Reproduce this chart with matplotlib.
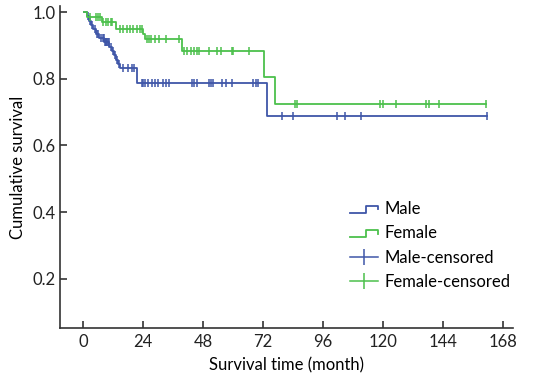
import numpy as np
import matplotlib
matplotlib.use("Agg")
import matplotlib.pyplot as plt
from matplotlib.lines import Line2D
from matplotlib.legend_handler import HandlerBase

plt.rcParams['font.family'] = ['Lato', 'DejaVu Sans']

# Kaplan-Meier steps (time in months, survival after the drop)
male_t = [0.5, 1.5, 2.4, 3.2, 4.0, 5.0, 6.5, 8.5, 10.5, 11.5, 12.3, 13.0, 13.8, 14.8, 21.5, 73.7]
male_s = [1.0, 0.987, 0.974, 0.961, 0.948, 0.935, 0.922, 0.909, 0.896, 0.883, 0.870, 0.857, 0.844, 0.831, 0.786, 0.688]
male_end = 161.7
male_cens = [2.0, 2.8, 3.6, 4.6, 5.6, 6.0, 7.2, 7.8, 8.2, 8.6, 9.0, 9.3, 9.6, 10.0, 10.3,
             11.0, 12.0, 12.6, 13.4, 14.3, 16.1, 18.1, 19.5, 20.3, 23.5, 24.1, 24.8, 26.1,
             27.5, 28.8, 30.1, 32.1, 33.2, 34.5, 43.5, 44.4, 45.5, 50.4, 51.1, 52.1, 55.5,
             57.1, 59.7, 68.1, 69.2, 70.1, 79.7, 83.9, 101.6, 104.9, 111.1, 161.7]

female_t = [0.5, 1.5, 7.5, 13.1, 24.0, 24.8, 39.5, 72.5, 76.8]
female_s = [1.0, 0.985, 0.971, 0.950, 0.935, 0.920, 0.883, 0.804, 0.723]
female_end = 161.2
female_cens = [2.8, 5.1, 5.9, 6.8, 8.1, 9.1, 10.1, 11.2, 11.7, 14.8, 16.1, 17.5, 18.8, 20.1,
               21.5, 22.8, 23.5, 25.7, 26.4, 27.1, 28.8, 30.5, 33.2, 38.5, 40.4, 41.7, 43.1,
               44.4, 45.5, 46.4, 50.4, 53.7, 55.1, 59.5, 60.1, 66.5, 84.8, 85.7, 118.8,
               119.9, 125.1, 137.2, 138.3, 142.4, 161.2]

blue = '#3F56A8'
green = '#4CC04C'
fs = 12


def surv_at(times, surv, t):
    idx = np.searchsorted(times, t, side='right') - 1
    return np.array(surv)[idx]


class HandlerStep(HandlerBase):
    def create_artists(self, legend, orig_handle, xdescent, ydescent, width, height, fontsize, trans):
        x0, y0 = -xdescent, -ydescent
        xs = [x0, x0 + width * 0.58, x0 + width * 0.58, x0 + width, x0 + width]
        ys = [y0 + height * 0.1, y0 + height * 0.1, y0 + height * 0.7, y0 + height * 0.7, y0 + height * 0.4]
        ln = Line2D(xs, ys, color=orig_handle.get_color(), lw=1.3)
        ln.set_transform(trans)
        return [ln]


fig = plt.figure(figsize=(5.33, 3.77), dpi=100)
ax = fig.add_axes([0.1126, 0.129, 0.85, 0.855])

for t, s, end, cens, c in [(male_t, male_s, male_end, male_cens, blue),
                           (female_t, female_s, female_end, female_cens, green)]:
    ax.plot(list(t) + [end], list(s) + [s[-1]], drawstyle='steps-post', color=c, lw=1.3)
    ax.plot(cens, surv_at(t, s, cens), linestyle='none', marker='|', color=c,
            markersize=6, markeredgewidth=1.1)

ax.set_xlim(-9.2, 172)
ax.set_ylim(0.051, 1.018)
ax.set_xticks([0, 24, 48, 72, 96, 120, 144, 168])
ax.set_yticks([0.2, 0.4, 0.6, 0.8, 1.0])
ax.set_yticklabels(['0.2', '0.4', '0.6', '0.8', '1.0'])
ax.tick_params(direction='in', length=5, width=1.1, labelsize=fs, colors='#222222')
ax.tick_params(axis='x', pad=4)
ax.tick_params(axis='y', pad=3)
for side in ['top', 'right']:
    ax.spines[side].set_visible(False)
for side in ['left', 'bottom']:
    ax.spines[side].set_linewidth(1.2)
    ax.spines[side].set_color('#333333')

ax.set_xlabel('Survival time (month)', fontsize=fs, labelpad=5)
ax.set_ylabel('Cumulative survival', fontsize=fs, labelpad=5)

h_male = Line2D([], [], color=blue)
h_female = Line2D([], [], color=green)
h_mc = Line2D([], [], color=blue, marker='|', markersize=11, markeredgewidth=1.1, lw=1.1)
h_fc = Line2D([], [], color=green, marker='|', markersize=11, markeredgewidth=1.1, lw=1.1)
fig.legend([h_male, h_female, h_mc, h_fc], ['Male', 'Female', 'Male-censored', 'Female-censored'],
           handler_map={h_male: HandlerStep(), h_female: HandlerStep()},
           loc='upper left', bbox_to_anchor=(350 / 533, 1 - 201 / 377),
           frameon=False, fontsize=fs, handlelength=1.7, handletextpad=0.4,
           labelspacing=0.5, borderpad=0, borderaxespad=0)

fig.savefig('out.png', dpi=100)
